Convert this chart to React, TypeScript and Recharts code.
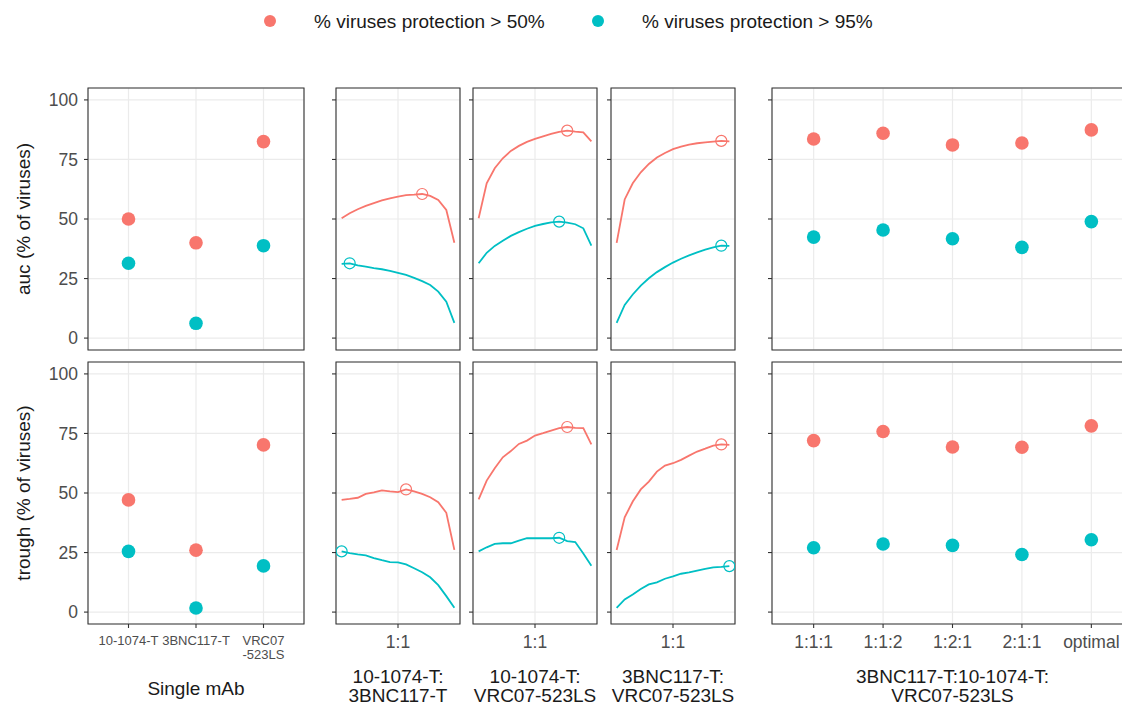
import { LineChart, Line, ScatterChart, Scatter, XAxis, YAxis, CartesianGrid, ReferenceArea } from "recharts";

// ---------- data ----------
const yTicks = [0, 25, 50, 75, 100];

const singleMabs = ["10-1074-T", "3BNC117-T", "VRC07\n-523LS"];
const singlePos = [1, 2, 3];
const singleAuc50 = [50.0, 40.0, 82.5];
const singleAuc95 = [31.4, 6.2, 38.8];
const singleTrough50 = [47.1, 26.0, 70.2];
const singleTrough95 = [25.5, 1.7, 19.4];

const tripleRatios = ["1:1:1", "1:1:2", "1:2:1", "2:1:1", "optimal"];
const triplePos = [1, 2, 3, 4, 5];
const tripleAuc50 = [83.6, 86.0, 81.1, 81.9, 87.4];
const tripleAuc95 = [42.4, 45.4, 41.7, 38.1, 48.9];
const tripleTrough50 = [72.0, 75.8, 69.3, 69.2, 78.2];
const tripleTrough95 = [27.0, 28.6, 28.0, 24.2, 30.4];

// 15 mixing steps per pair, step 7 is the 1:1 mix
const mixSteps = [0, 1, 2, 3, 4, 5, 6, 7, 8, 9, 10, 11, 12, 13, 14];
const oneToOne = 7;

const pairNames = [
  ["10-1074-T:", "3BNC117-T"],
  ["10-1074-T:", "VRC07-523LS"],
  ["3BNC117-T:", "VRC07-523LS"],
];
const tripleName = ["3BNC117-T:10-1074-T:", "VRC07-523LS"];

const pair1Auc50 = [50.3, 52.4, 54.1, 55.5, 56.7, 57.8, 58.7, 59.4, 60.0, 60.2, 60.5, 59.7, 58.0, 53.8, 40.0];
const pair1Auc95 = [31.2, 31.4, 30.5, 30.0, 29.4, 28.9, 28.2, 27.4, 26.5, 25.3, 23.9, 22.3, 19.5, 15.3, 6.4];
const pair2Auc50 = [50.3, 65.0, 71.3, 75.5, 78.6, 80.7, 82.4, 83.6, 84.7, 85.7, 86.6, 87.1, 86.7, 86.4, 82.6];
const pair2Auc95 = [31.4, 35.8, 38.7, 40.9, 42.9, 44.5, 45.9, 47.1, 47.9, 48.6, 48.9, 48.5, 47.8, 46.1, 38.8];
const pair3Auc50 = [40.0, 58.2, 65.0, 69.6, 73.1, 75.8, 77.7, 79.3, 80.4, 81.2, 81.8, 82.2, 82.5, 82.8, 82.6];
const pair3Auc95 = [6.4, 13.9, 18.3, 22.0, 25.1, 27.7, 29.8, 31.7, 33.3, 34.7, 36.0, 37.1, 38.1, 38.8, 38.7];

const pair1Trough50 = [47.1, 47.5, 48.0, 49.6, 50.3, 51.1, 50.7, 50.4, 51.5, 50.7, 49.6, 48.2, 46.1, 41.7, 26.1];
const pair1Trough95 = [25.5, 24.8, 24.2, 23.8, 22.7, 21.8, 21.0, 20.9, 20.0, 18.4, 16.7, 14.6, 11.3, 6.7, 1.8];
const pair2Trough50 = [47.3, 55.2, 60.4, 65.0, 67.6, 70.6, 72.0, 74.1, 75.1, 76.2, 77.2, 77.7, 77.3, 77.2, 70.4];
const pair2Trough95 = [25.5, 27.2, 28.6, 28.9, 28.9, 30.0, 31.0, 31.0, 31.0, 31.0, 31.2, 29.8, 29.4, 24.6, 19.5];
const pair3Trough50 = [26.1, 39.8, 46.4, 51.5, 54.8, 59.0, 61.5, 62.5, 63.9, 65.7, 67.4, 68.6, 69.9, 70.4, 70.2];
const pair3Trough95 = [1.8, 5.3, 7.4, 9.7, 11.6, 12.5, 14.0, 15.0, 16.1, 16.7, 17.4, 18.1, 18.8, 19.0, 19.3];

const legendItems = ["% viruses protection > 50%", "% viruses protection > 95%"];

// ---------- style / layout ----------
const RED = "#F8766D";
const CYAN = "#00BFC4";
const INK = "#333333";
const GRID = "#EBEBEB";
const TICK_TXT = "#4D4D4D";
const TITLE = "#1A1A1A";
const FONT = "'Liberation Sans', Arial, Helvetica, sans-serif";
const PAD = 2;
const TICKLINE = { stroke: INK, strokeWidth: 1.1 };
const TICK_FS = 17.5;
const TITLE_FS = 19;

const COLS = [
  { x: 88, w: 216 },
  { x: 336, w: 124 },
  { x: 473, w: 124 },
  { x: 611, w: 124 },
  { x: 772, w: 361 },
];

const ROWS = [
  {
    title: "auc (% of viruses)", y: 88, h: 262, last: false,
    single: [singleAuc50, singleAuc95], triple: [tripleAuc50, tripleAuc95],
    pairs: [[pair1Auc50, pair1Auc95], [pair2Auc50, pair2Auc95], [pair3Auc50, pair3Auc95]],
  },
  {
    title: "trough (% of viruses)", y: 362, h: 262, last: true,
    single: [singleTrough50, singleTrough95], triple: [tripleTrough50, tripleTrough95],
    pairs: [[pair1Trough50, pair1Trough95], [pair2Trough50, pair2Trough95], [pair3Trough50, pair3Trough95]],
  },
];

const Y_DOMAIN: [number, number] = [-5, 105];
const argMax = (a: number[]) => a.indexOf(Math.max(...a));
const noLabel = () => <g />;

function xTick(fmt: (v: number) => string, size: number) {
  return (p: any) => {
    const lines = fmt(p.payload.value).split("\n");
    return (
      <text x={p.x} y={p.y} textAnchor="middle" fill={TICK_TXT} fontSize={size}>
        {lines.map((ln, i) => (
          <tspan key={i} x={p.x} dy={i === 0 ? "0.71em" : "1.05em"}>{ln}</tspan>
        ))}
      </text>
    );
  };
}

function yAxis(leftW: number, showY: boolean) {
  return (
    <YAxis
      type="number"
      dataKey="v"
      domain={Y_DOMAIN}
      ticks={yTicks}
      interval={0}
      width={leftW}
      axisLine={false}
      tickLine={TICKLINE}
      tickSize={4}
      tickMargin={6}
      tick={showY ? { fill: TICK_TXT, fontSize: TICK_FS } : noLabel}
      allowDataOverflow
    />
  );
}

function ScatterPanel({ col, row, labels, pos, s50, s95, showY, fs }: any) {
  const leftW = showY ? 60 : 8;
  const bottomH = row.last ? 44 : 0;
  const d50 = pos.map((p: number, i: number) => ({ pos: p, v: s50[i] }));
  const d95 = pos.map((p: number, i: number) => ({ pos: p, v: s95[i] }));
  const xDom: [number, number] = [pos[0] - 0.6, pos[pos.length - 1] + 0.6];
  const dot = (c: string) => (p: any) => <circle cx={p.cx} cy={p.cy} r={6.8} fill={c} />;
  return (
    <div style={{ position: "absolute", left: col.x - leftW, top: row.y - PAD }}>
      <ScatterChart
        width={leftW + col.w + PAD}
        height={row.h + bottomH + 2 * PAD}
        margin={{ top: PAD, right: PAD, bottom: PAD, left: 0 }}
      >
        <CartesianGrid stroke={GRID} strokeWidth={1.2} />
        <XAxis
          type="number"
          dataKey="pos"
          domain={xDom}
          ticks={pos}
          interval={0}
          hide={!row.last}
          height={bottomH}
          axisLine={false}
          tickLine={TICKLINE}
          tickSize={4}
          tickMargin={8}
          tick={xTick((v) => labels[pos.indexOf(v)], fs)}
          allowDataOverflow
        />
        {yAxis(leftW, showY)}
        <Scatter data={d50} fill={RED} shape={dot(RED)} isAnimationActive={false} />
        <Scatter data={d95} fill={CYAN} shape={dot(CYAN)} isAnimationActive={false} />
        <ReferenceArea x1={xDom[0]} x2={xDom[1]} y1={Y_DOMAIN[0]} y2={Y_DOMAIN[1]} fill="none" stroke={INK} strokeWidth={1.1} ifOverflow="visible" />
      </ScatterChart>
    </div>
  );
}

function peakDot(peak: number, color: string) {
  return (p: any) =>
    p.index === peak ? (
      <circle key={`pk${p.index}`} cx={p.cx} cy={p.cy} r={5.5} fill="none" stroke={color} strokeWidth={1.2} />
    ) : (
      <g key={`pk${p.index}`} />
    );
}

function LinePanel({ col, row, a50, a95 }: any) {
  const leftW = 8;
  const bottomH = row.last ? 44 : 0;
  const data = mixSteps.map((s, i) => ({ step: s, p50: a50[i], p95: a95[i] }));
  const pad = (mixSteps[mixSteps.length - 1] - mixSteps[0]) * 0.05;
  const xDom: [number, number] = [mixSteps[0] - pad, mixSteps[mixSteps.length - 1] + pad];
  return (
    <div style={{ position: "absolute", left: col.x - leftW, top: row.y - PAD }}>
      <LineChart
        data={data}
        width={leftW + col.w + PAD}
        height={row.h + bottomH + 2 * PAD}
        margin={{ top: PAD, right: PAD, bottom: PAD, left: 0 }}
      >
        <CartesianGrid stroke={GRID} strokeWidth={1.2} />
        <XAxis
          type="number"
          dataKey="step"
          domain={xDom}
          ticks={[oneToOne]}
          interval={0}
          hide={!row.last}
          height={bottomH}
          axisLine={false}
          tickLine={TICKLINE}
          tickSize={4}
          tickMargin={8}
          tick={xTick(() => "1:1", TICK_FS)}
          allowDataOverflow
        />
        {yAxis(leftW, false)}
        <Line type="linear" dataKey="p50" stroke={RED} strokeWidth={1.8} dot={peakDot(argMax(a50), RED)} activeDot={false} isAnimationActive={false} />
        <Line type="linear" dataKey="p95" stroke={CYAN} strokeWidth={1.8} dot={peakDot(argMax(a95), CYAN)} activeDot={false} isAnimationActive={false} />
        <ReferenceArea x1={xDom[0]} x2={xDom[1]} y1={Y_DOMAIN[0]} y2={Y_DOMAIN[1]} fill="none" stroke={INK} strokeWidth={1.1} ifOverflow="visible" />
      </LineChart>
    </div>
  );
}

export default function App() {
  const center = (c: { x: number; w: number }) => c.x + c.w / 2;
  const titleY1 = 676;
  const titleY2 = 695;
  return (
    <div
      style={{
        position: "absolute",
        left: 0,
        top: 0,
        width: 1122,
        height: 706,
        overflow: "hidden",
        background: "#fff",
        fontFamily: FONT,
      }}
    >
      {ROWS.map((row, r) => (
        <div key={r}>
          <ScatterPanel col={COLS[0]} row={row} labels={singleMabs} pos={singlePos} s50={row.single[0]} s95={row.single[1]} showY fs={13} />
          {row.pairs.map((pr, k) => (
            <LinePanel key={k} col={COLS[k + 1]} row={row} a50={pr[0]} a95={pr[1]} />
          ))}
          <ScatterPanel col={COLS[4]} row={row} labels={tripleRatios} pos={triplePos} s50={row.triple[0]} s95={row.triple[1]} showY={false} fs={TICK_FS} />
        </div>
      ))}

      <svg width={1122} height={706} style={{ position: "absolute", left: 0, top: 0, pointerEvents: "none" }}>
        {/* legend */}
        <g fontSize={19} fill={TITLE}>
          <circle cx={270} cy={21} r={6} fill={RED} />
          <text x={314} y={21} dominantBaseline="central">{legendItems[0]}</text>
          <circle cx={598} cy={21} r={6} fill={CYAN} />
          <text x={642} y={21} dominantBaseline="central">{legendItems[1]}</text>
        </g>
        {/* y titles */}
        {ROWS.map((row, r) => {
          const cy = row.y + row.h / 2;
          return (
            <text key={r} x={23} y={cy} transform={`rotate(-90, 23, ${cy})`} textAnchor="middle" dominantBaseline="central" fontSize={TITLE_FS} fill={TITLE}>
              {row.title}
            </text>
          );
        })}
        {/* x titles */}
        <g fontSize={TITLE_FS} fill={TITLE} textAnchor="middle">
          <text x={center(COLS[0])} y={688} dominantBaseline="central">Single mAb</text>
          {pairNames.map((nm, k) => (
            <g key={k}>
              <text x={center(COLS[k + 1])} y={titleY1} dominantBaseline="central">{nm[0]}</text>
              <text x={center(COLS[k + 1])} y={titleY2} dominantBaseline="central">{nm[1]}</text>
            </g>
          ))}
          <text x={center(COLS[4])} y={titleY1} dominantBaseline="central">{tripleName[0]}</text>
          <text x={center(COLS[4])} y={titleY2} dominantBaseline="central">{tripleName[1]}</text>
        </g>
      </svg>
    </div>
  );
}
